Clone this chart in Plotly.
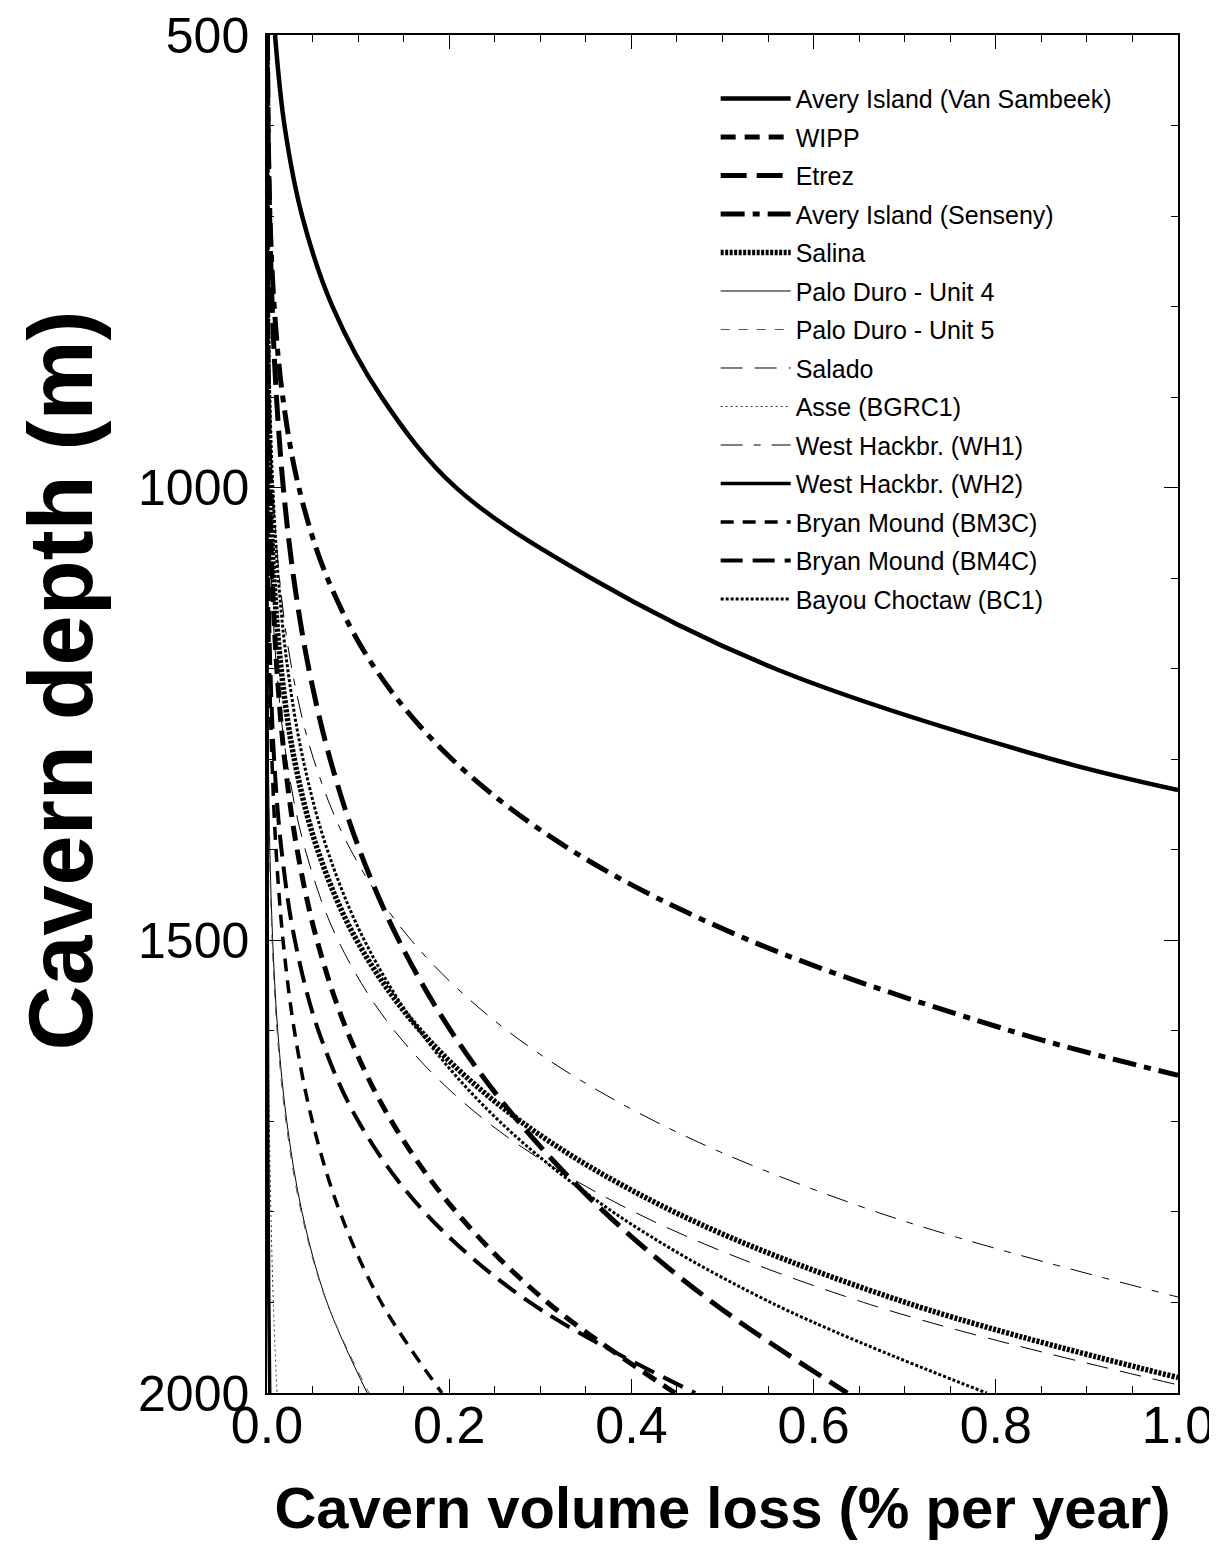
import plotly.graph_objects as go

# ---------------- data ----------------
DEPTH = [500, 600, 700, 800, 900, 1000, 1100, 1200, 1300, 1400,
         1500, 1600, 1700, 1800, 1900, 2000]

depth_van_sambeek = [500, 600, 700, 800, 900, 1000, 1100, 1200, 1300, 1334]
loss_van_sambeek = [0.0088, 0.0192, 0.0386, 0.0719, 0.1258, 0.2075, 0.356, 0.558, 0.862, 1.0]

loss_wipp = [0.0000, 0.0001, 0.0002, 0.0006, 0.0013, 0.0028, 0.0057, 0.0108,
             0.0193, 0.0331, 0.0549, 0.0879, 0.1368, 0.2076, 0.3080, 0.448]

loss_etrez = [0.0005, 0.0013, 0.0029, 0.0057, 0.0104, 0.0179, 0.0293, 0.0459,
              0.0693, 0.1015, 0.1447, 0.2019, 0.2759, 0.3702, 0.4891, 0.637]

depth_senseny = [500, 600, 700, 800, 900, 1000, 1100, 1200, 1300, 1400, 1500, 1600, 1649]
loss_senseny = [0.0003, 0.0011, 0.0032, 0.0079, 0.0173, 0.0350, 0.0663, 0.1188,
                0.2031, 0.3334, 0.5296, 0.8165, 1.0]

depth_salina = [500, 600, 700, 800, 900, 1000, 1100, 1200, 1300, 1400,
                1500, 1600, 1700, 1800, 1900, 1983]
loss_salina = [0.0000, 0.0000, 0.0002, 0.0005, 0.0014, 0.0034, 0.0075, 0.0155,
               0.030, 0.0556, 0.0985, 0.1686, 0.2785, 0.447, 0.701, 1.0]

loss_palo_duro_4 = [0.0, 0.0, 0.0, 0.0, 0.0, 0.0001, 0.0003, 0.0007,
                    0.0015, 0.0031, 0.0062, 0.0118, 0.0217, 0.0384, 0.0659, 0.110]

loss_palo_duro_5 = [0.0, 0.0, 0.0, 0.0, 0.0, 0.0001, 0.0002, 0.0006,
                    0.0013, 0.0027, 0.0056, 0.0110, 0.0207, 0.0375, 0.0657, 0.112]

depth_salado = [500, 600, 700, 800, 900, 1000, 1100, 1200, 1300, 1400,
                1500, 1600, 1700, 1800, 1900, 1991]
loss_salado = [0.0000, 0.0000, 0.0001, 0.0003, 0.0008, 0.0020, 0.0048, 0.0105,
               0.0215, 0.042, 0.078, 0.140, 0.241, 0.403, 0.655, 1.0]

loss_asse = [0.0, 0.0, 0.0, 0.0, 0.0, 0.0, 0.0, 0.0001,
             0.0002, 0.0004, 0.0008, 0.0015, 0.0025, 0.0043, 0.0069, 0.011]

depth_wh1 = [500, 600, 700, 800, 900, 1000, 1100, 1200, 1300, 1400,
             1500, 1600, 1700, 1800, 1894]
loss_wh1 = [0.0000, 0.0001, 0.0004, 0.0011, 0.0028, 0.0064, 0.0137, 0.0272,
            0.0512, 0.0918, 0.1584, 0.2640, 0.426, 0.669, 1.0]

loss_wh2 = [0.0, 0.0, 0.0, 0.0, 0.0, 0.0, 0.0001, 0.0001,
            0.0001, 0.0002, 0.0003, 0.0005, 0.0008, 0.0013, 0.0020, 0.003]

loss_bm3c = [0.0000, 0.0000, 0.0000, 0.0001, 0.0003, 0.0006, 0.0013, 0.0028,
             0.0054, 0.0099, 0.0176, 0.0301, 0.0498, 0.0800, 0.1254, 0.192]

loss_bm4c = [0.0000, 0.0000, 0.0000, 0.0001, 0.0002, 0.0006, 0.0016, 0.0037,
             0.0078, 0.0159, 0.0306, 0.0565, 0.1004, 0.1727, 0.2887, 0.47]

loss_bc1 = [0.0001, 0.0002, 0.0005, 0.0014, 0.0031, 0.0064, 0.0124, 0.0227,
            0.0396, 0.0662, 0.1069, 0.1676, 0.2553, 0.3797, 0.553, 0.79]

X_TICKS = [0.0, 0.2, 0.4, 0.6, 0.8, 1.0]
X_TICK_TEXT = ["0.0", "0.2", "0.4", "0.6", "0.8", "1.0"]
Y_TICKS = [500, 1000, 1500, 2000]
Y_TICK_TEXT = ["500", "1000", "1500", "2000"]

X_TITLE = "Cavern volume loss (% per year)"
Y_TITLE = "Cavern depth (m)"

# ---------------- series definitions ----------------
series = [
    ("Avery Island (Van Sambeek)", loss_van_sambeek, depth_van_sambeek, 4.5, "solid", "black"),
    ("WIPP", loss_wipp, DEPTH, 5, "15px,9px", "black"),
    ("Etrez", loss_etrez, DEPTH, 5, "26px,10px", "black"),
    ("Avery Island (Senseny)", loss_senseny, depth_senseny, 5, "24px,8px,7px,8px", "black"),
    ("Salina", loss_salina, depth_salina, 5.5, "3px,1.5px", "black"),
    ("Palo Duro - Unit 4", loss_palo_duro_4, DEPTH, 1, "solid", "black"),
    ("Palo Duro - Unit 5", loss_palo_duro_5, DEPTH, 1, "9px,9px", "#555555"),
    ("Salado", loss_salado, depth_salado, 1, "22px,12px", "black"),
    ("Asse (BGRC1)", loss_asse, DEPTH, 1, "2px,3px", "#333333"),
    ("West Hackbr. (WH1)", loss_wh1, depth_wh1, 1, "22px,11px,7px,11px", "black"),
    ("West Hackbr. (WH2)", loss_wh2, DEPTH, 3.5, "solid", "black"),
    ("Bryan Mound (BM3C)", loss_bm3c, DEPTH, 3.5, "13px,9px", "black"),
    ("Bryan Mound (BM4C)", loss_bm4c, DEPTH, 4, "22px,10px", "black"),
    ("Bayou Choctaw (BC1)", loss_bc1, DEPTH, 3, "3px,2px", "black"),
]

fig = go.Figure()
for i, (name, xs, ys, w, dash, col) in enumerate(series):
    fig.add_trace(go.Scatter(
        x=xs, y=ys, mode="lines", name=name, legendgroup="g%02d" % i,
        line=dict(color=col, width=w, dash=dash, shape="spline", smoothing=1.0),
    ))

SANS = "Liberation Sans, Arial, sans-serif"

fig.update_layout(
    width=1217, height=1551,
    margin=dict(l=259, r=47, t=27, b=166),
    paper_bgcolor="white", plot_bgcolor="white",
    showlegend=True,
    legend=dict(
        x=0.4925, y=0.970, xanchor="left", yanchor="top",
        bgcolor="rgba(0,0,0,0)", borderwidth=0,
        font=dict(family=SANS, size=25, color="black"),
        itemwidth=70, tracegroupgap=3, traceorder="grouped",
    ),
    xaxis=dict(
        range=[0, 1], tickvals=X_TICKS, ticktext=X_TICK_TEXT,
        ticks="inside", ticklen=14, tickwidth=1.2, tickcolor="black",
        minor=dict(dtick=0.05, tick0=0, ticks="inside", ticklen=7, tickcolor="black"),
        showline=True, linecolor="black", linewidth=1.5, mirror="ticks",
        showgrid=False, zeroline=False, automargin=False,
        ticklabelstandoff=-14, ticklabeloverflow="allow",
        tickfont=dict(family=SANS, size=52, color="black"),
        title=dict(text="<b>" + X_TITLE + "</b>",
                   font=dict(family=SANS, size=58, color="black"), standoff=34),
    ),
    yaxis=dict(
        range=[2000, 500], tickvals=Y_TICKS, ticktext=Y_TICK_TEXT,
        ticks="inside", ticklen=14, tickwidth=1.2, tickcolor="black",
        minor=dict(dtick=100, tick0=500, ticks="inside", ticklen=7, tickcolor="black"),
        showline=True, linecolor="black", linewidth=1.5, mirror="ticks",
        showgrid=False, zeroline=False, automargin=False,
        ticklabelstandoff=6, ticklabeloverflow="allow",
        tickfont=dict(family=SANS, size=50, color="black"),
    ),
    annotations=[dict(
        text="<b>" + Y_TITLE + "</b>", textangle=-90,
        xref="paper", yref="paper", x=-0.2256, y=0.525,
        xanchor="center", yanchor="middle", showarrow=False,
        font=dict(family=SANS, size=90, color="black"),
    )],
)

fig.write_html("out.html")
